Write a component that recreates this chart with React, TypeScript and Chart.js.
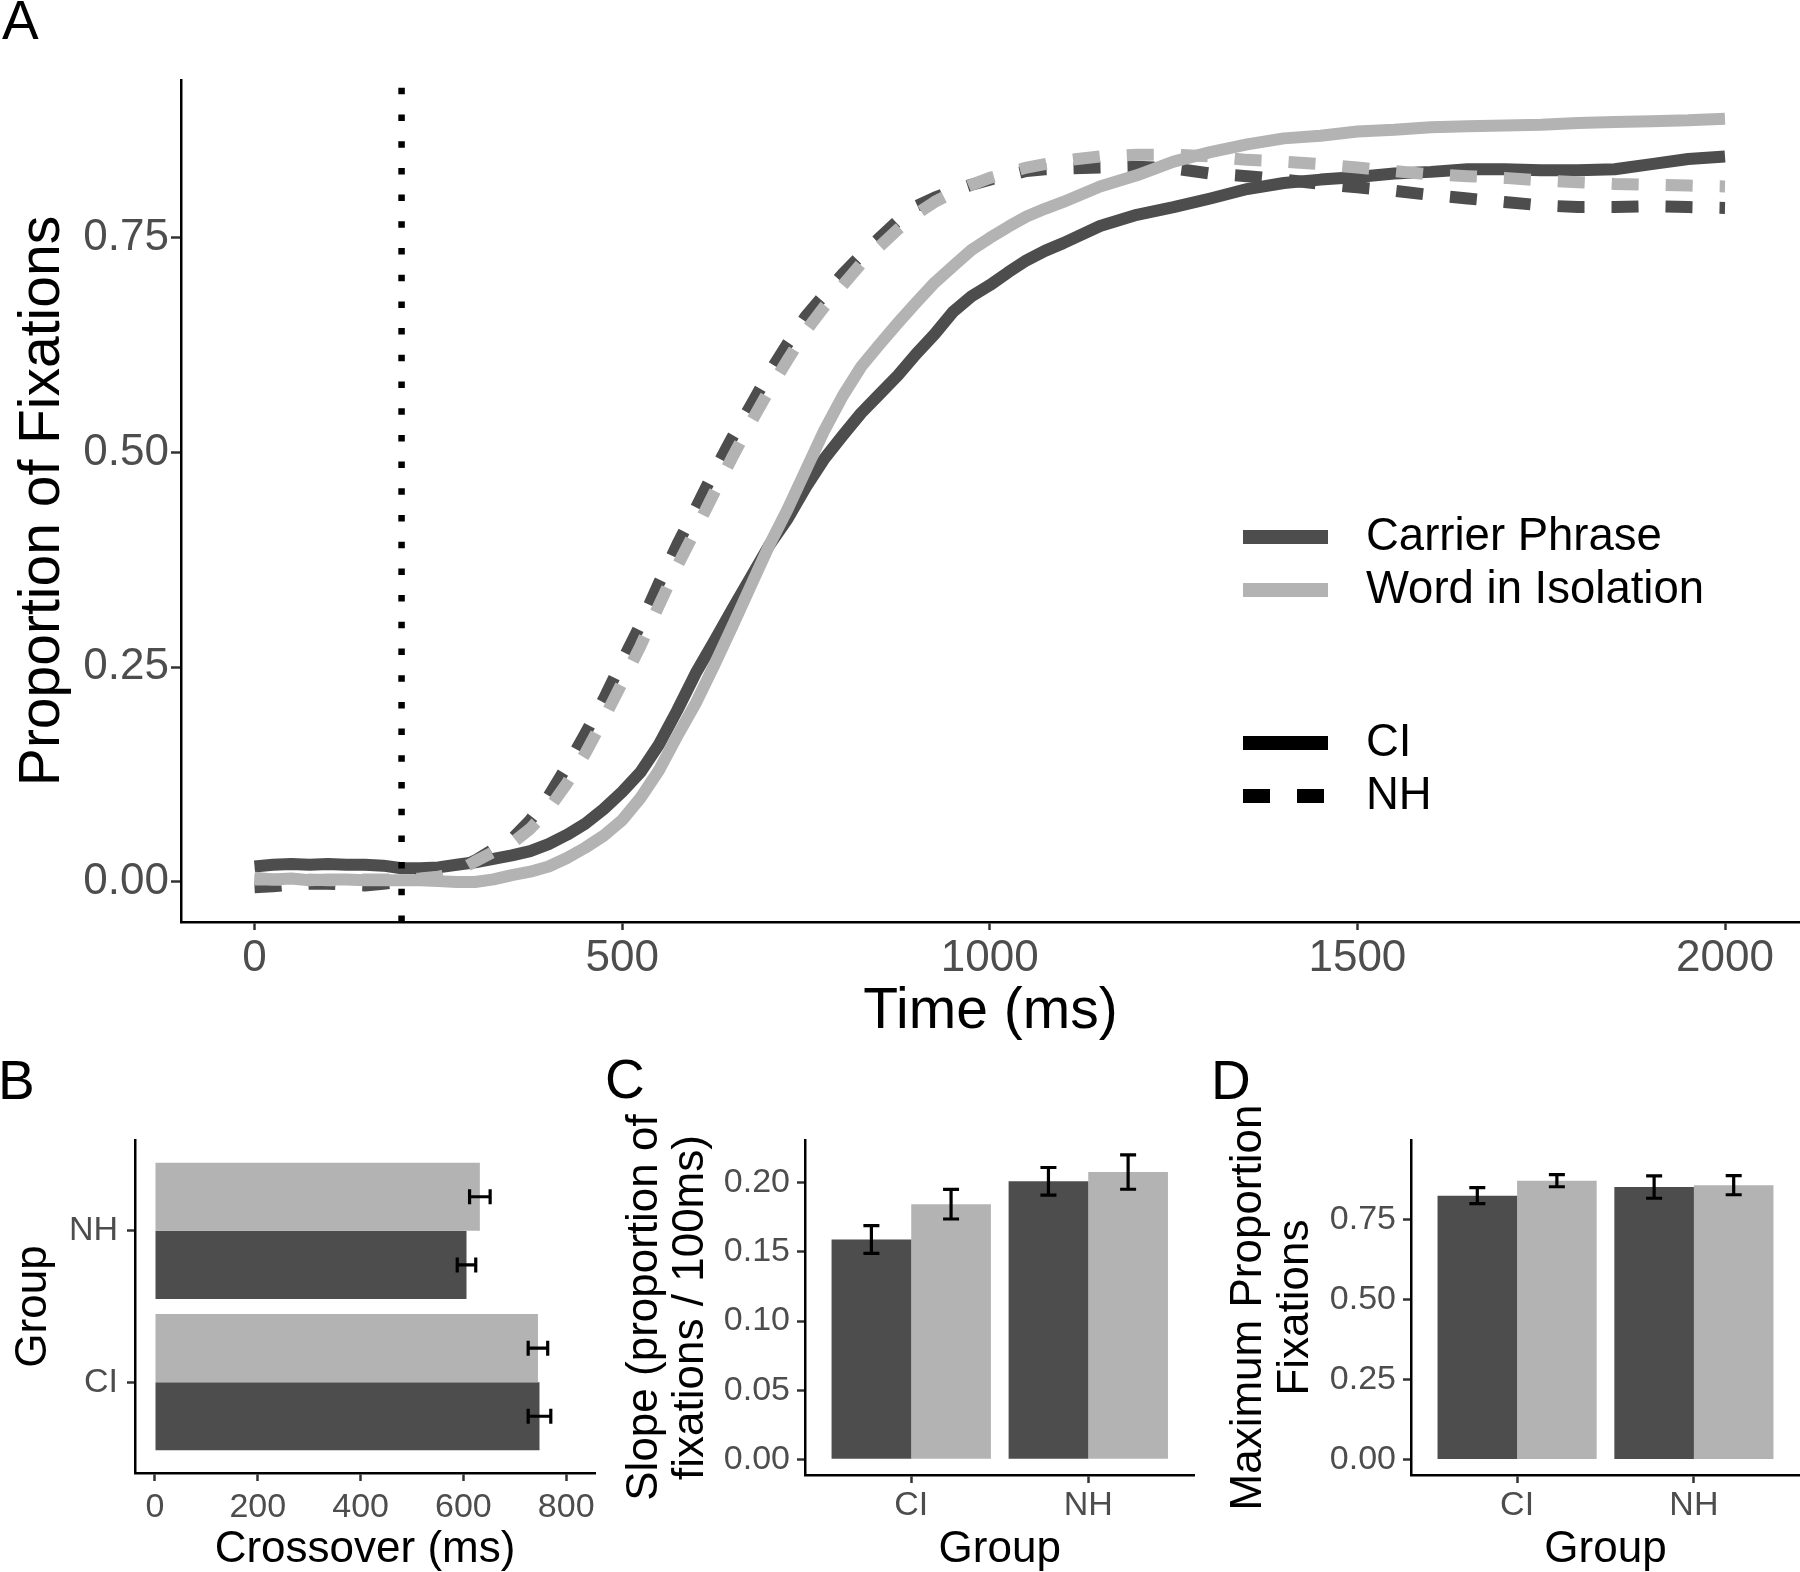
import React, { useEffect, useRef } from 'react';
import { Chart, registerables } from 'chart.js';

Chart.register(...registerables);

const FONT = "'Liberation Sans', Arial, Helvetica, sans-serif";
const DARK = '#4D4D4D';
const LIGHT = '#B3B3B3';
const TICK_TEXT = '#4D4D4D';
const TICK_MARK = '#333333';

// ---------- Panel A: time course ----------
const TIME_MS = [0, 25, 50, 75, 100, 125, 150, 175, 200, 225, 250, 275,
  300, 325, 350, 375, 400, 425, 450, 475, 500, 525, 550, 575,
  600, 625, 650, 675, 700, 725, 750, 775, 800, 825, 850, 875,
  900, 925, 950, 975, 1000, 1025, 1050, 1075, 1100,
  1150, 1200, 1250, 1300, 1350, 1400, 1450, 1500, 1550, 1600, 1650, 1700, 1750, 1800, 1850, 1900, 1950, 2000];

const CI_CARRIER = [0.018, 0.020, 0.021, 0.020, 0.021, 0.020, 0.020, 0.019, 0.016, 0.016, 0.017, 0.020,
  0.023, 0.027, 0.031, 0.036, 0.044, 0.055, 0.068, 0.085, 0.105, 0.128, 0.160, 0.200,
  0.243, 0.280, 0.318, 0.355, 0.392, 0.423, 0.460, 0.493, 0.520, 0.546, 0.568, 0.590,
  0.615, 0.638, 0.664, 0.682, 0.695, 0.710, 0.724, 0.735, 0.744,
  0.764, 0.777, 0.786, 0.796, 0.807, 0.814, 0.818, 0.821, 0.825, 0.827, 0.830, 0.830, 0.829, 0.829, 0.830, 0.836, 0.842, 0.845];

const CI_WORD = [0.005, 0.003, 0.004, 0.002, 0.003, 0.003, 0.002, 0.002, 0.002, 0.002, 0.001, 0.000,
  0.000, 0.003, 0.008, 0.012, 0.018, 0.028, 0.040, 0.054, 0.072, 0.098, 0.130, 0.170,
  0.208, 0.252, 0.298, 0.345, 0.392, 0.434, 0.480, 0.526, 0.566, 0.600, 0.626, 0.651,
  0.675, 0.698, 0.717, 0.736, 0.750, 0.763, 0.775, 0.784, 0.792,
  0.810, 0.823, 0.839, 0.850, 0.859, 0.866, 0.869, 0.874, 0.876, 0.879, 0.880, 0.881, 0.882, 0.884, 0.885, 0.886, 0.887, 0.889];

const NH_CARRIER = [-0.006, -0.005, -0.003, -0.002, -0.002, -0.003, -0.004, -0.002, 0.000, 0.004, 0.008, 0.015,
  0.025, 0.038, 0.050, 0.072, 0.100, 0.135, 0.173, 0.213, 0.257, 0.300, 0.348, 0.393,
  0.435, 0.478, 0.518, 0.555, 0.593, 0.627, 0.659, 0.684, 0.708, 0.730, 0.750, 0.770,
  0.787, 0.797, 0.805, 0.812, 0.818, 0.823, 0.828, 0.830, 0.831,
  0.832, 0.833, 0.831, 0.825, 0.822, 0.818, 0.813, 0.809, 0.805, 0.800, 0.796, 0.792, 0.788, 0.786, 0.786, 0.787, 0.786, 0.785];

const NH_WORD = [0.003, 0.003, 0.002, 0.003, 0.002, 0.002, 0.003, 0.003, 0.003, 0.004, 0.006, 0.012,
  0.024, 0.035, 0.045, 0.062, 0.085, 0.115, 0.150, 0.190, 0.232, 0.275, 0.322, 0.368,
  0.410, 0.453, 0.495, 0.535, 0.573, 0.608, 0.642, 0.670, 0.695, 0.720, 0.740, 0.760,
  0.778, 0.792, 0.803, 0.812, 0.820, 0.826, 0.832, 0.836, 0.840,
  0.845, 0.847, 0.847, 0.845, 0.841, 0.839, 0.836, 0.832, 0.828, 0.824, 0.822, 0.820, 0.817, 0.815, 0.813, 0.812, 0.811, 0.810];

const ONSET_MS = 200;
const TIME_TICKS = [0, 500, 1000, 1500, 2000];
const PROP_TICKS = [0, 0.25, 0.5, 0.75];
const CONDITIONS = ['Carrier Phrase', 'Word in Isolation'];
const GROUPS = ['CI', 'NH'];

// ---------- Panel B: crossover ----------
const CROSSOVER_CARRIER = [748, 606];
const CROSSOVER_CARRIER_SE = [22, 18];
const CROSSOVER_WORD = [745, 632];
const CROSSOVER_WORD_SE = [19, 20];
const CROSSOVER_TICKS = [0, 200, 400, 600, 800];

// ---------- Panel C: slope ----------
const SLOPE_CARRIER = [0.159, 0.201];
const SLOPE_CARRIER_SE = [0.010, 0.010];
const SLOPE_WORD = [0.1845, 0.2077];
const SLOPE_WORD_SE = [0.0107, 0.0124];
const SLOPE_TICKS = [0, 0.05, 0.10, 0.15, 0.20];

// ---------- Panel D: maximum proportion ----------
const MAXPROP_CARRIER = [0.824, 0.851];
const MAXPROP_CARRIER_SE = [0.025, 0.035];
const MAXPROP_WORD = [0.871, 0.857];
const MAXPROP_WORD_SE = [0.019, 0.030];
const MAXPROP_TICKS = [0, 0.25, 0.5, 0.75];

const SERIES_DASH = [27, 27];

function makeScale(o: any) {
  return {
    type: 'linear',
    min: o.min,
    max: o.max,
    offset: false,
    afterBuildTicks: (s: any) => { s.ticks = o.ticks.map((v: number) => ({ value: v })); },
    afterFit: (s: any) => {
      o.fit(s);
      s.paddingLeft = 0; s.paddingRight = 0; s.paddingTop = 0; s.paddingBottom = 0;
    },
    grid: {
      display: true, drawOnChartArea: false, drawTicks: true, offset: false,
      tickLength: o.tickLength, tickWidth: 2.5, tickColor: TICK_MARK, color: TICK_MARK,
    },
    border: { display: true, color: '#000', width: 2.5 },
    ticks: {
      autoSkip: false, maxRotation: 0, minRotation: 0, padding: o.tickPadding,
      color: TICK_TEXT, font: { family: FONT, size: o.tickFont, lineHeight: 1 },
      callback: (v: any) => o.format(Number(v)),
    },
    title: {
      display: true, text: o.title, color: '#000',
      font: { family: FONT, size: o.titleFont, lineHeight: o.titleLineHeight },
      padding: o.titlePadding,
    },
  };
}

const onsetLinePlugin = {
  id: 'onsetLine',
  afterDatasetsDraw(chart: any) {
    const { ctx, chartArea } = chart;
    const x = chart.scales.x.getPixelForValue(ONSET_MS);
    ctx.save();
    ctx.strokeStyle = '#000';
    ctx.lineWidth = 6.5;
    ctx.lineCap = 'butt';
    ctx.setLineDash([6.5, 20.2]);
    ctx.beginPath();
    ctx.moveTo(x, chartArea.bottom);
    ctx.lineTo(x, chartArea.top);
    ctx.stroke();
    ctx.restore();
  },
};

const timecourseLegendPlugin = {
  id: 'timecourseLegend',
  afterDraw(chart: any) {
    const ctx = chart.ctx;
    const items = [
      { label: CONDITIONS[0], color: DARK, dash: [], y: 537 },
      { label: CONDITIONS[1], color: LIGHT, dash: [], y: 590 },
      { label: GROUPS[0], color: '#000', dash: [], y: 743 },
      { label: GROUPS[1], color: '#000', dash: SERIES_DASH, y: 796 },
    ];
    ctx.save();
    ctx.font = `45.5px ${FONT}`;
    ctx.textBaseline = 'middle';
    ctx.textAlign = 'left';
    ctx.fillStyle = '#000';
    items.forEach((it) => {
      ctx.beginPath();
      ctx.setLineDash(it.dash);
      ctx.lineWidth = 14;
      ctx.lineCap = 'butt';
      ctx.strokeStyle = it.color;
      ctx.moveTo(1243, it.y);
      ctx.lineTo(1328, it.y);
      ctx.stroke();
      ctx.setLineDash([]);
      ctx.fillText(it.label, 1366, it.y);
    });
    ctx.restore();
  },
};

const errorBarsPlugin = {
  id: 'errorBars',
  afterDatasetsDraw(chart: any, _args: any, opts: any) {
    const { ctx } = chart;
    const horizontal = chart.options.indexAxis === 'y';
    const valueScale = horizontal ? chart.scales.x : chart.scales.y;
    const w = opts.capHalf || 8;
    ctx.save();
    ctx.strokeStyle = '#000';
    ctx.lineWidth = opts.lineWidth || 3;
    ctx.lineCap = 'butt';
    chart.data.datasets.forEach((ds: any, i: number) => {
      if (!ds.errors) return;
      const meta = chart.getDatasetMeta(i);
      meta.data.forEach((el: any, j: number) => {
        const v = horizontal ? ds.data[j].x : ds.data[j].y;
        const lo = valueScale.getPixelForValue(v - ds.errors[j]);
        const hi = valueScale.getPixelForValue(v + ds.errors[j]);
        const c = horizontal ? el.y : el.x;
        ctx.beginPath();
        if (horizontal) {
          ctx.moveTo(lo, c); ctx.lineTo(hi, c);
          ctx.moveTo(lo, c - w); ctx.lineTo(lo, c + w);
          ctx.moveTo(hi, c - w); ctx.lineTo(hi, c + w);
        } else {
          ctx.moveTo(c, lo); ctx.lineTo(c, hi);
          ctx.moveTo(c - w, lo); ctx.lineTo(c + w, lo);
          ctx.moveTo(c - w, hi); ctx.lineTo(c + w, hi);
        }
        ctx.stroke();
      });
    });
    ctx.restore();
  },
};

const baseOptions = (padding: any) => ({
  animation: false,
  responsive: false,
  maintainAspectRatio: false,
  events: [],
  layout: { padding },
});

function buildTimecourse() {
  const pts = (vals: number[]) => TIME_MS.map((t, i) => ({ x: t, y: vals[i] }));
  const line = (label: string, vals: number[], color: string, dash: number[], order: number) => ({
    label, data: pts(vals), borderColor: color, backgroundColor: color, borderWidth: 12,
    borderDash: dash, borderCapStyle: 'butt', borderJoinStyle: 'round',
    pointRadius: 0, pointHoverRadius: 0, fill: false, tension: 0, order,
  });
  return {
    type: 'line',
    data: {
      datasets: [
        line(`${GROUPS[0]} – ${CONDITIONS[0]}`, CI_CARRIER, DARK, [], 3),
        line(`${GROUPS[1]} – ${CONDITIONS[0]}`, NH_CARRIER, DARK, SERIES_DASH, 2),
        line(`${GROUPS[0]} – ${CONDITIONS[1]}`, CI_WORD, LIGHT, [], 1),
        line(`${GROUPS[1]} – ${CONDITIONS[1]}`, NH_WORD, LIGHT, SERIES_DASH, 0),
      ],
    },
    options: {
      ...baseOptions({ top: 80, right: 0, bottom: 0, left: 0 }),
      plugins: { legend: { display: false }, tooltip: { enabled: false } },
      scales: {
        x: makeScale({
          min: -100, max: 2102, ticks: TIME_TICKS, format: (v: number) => String(v),
          tickFont: 44, tickLength: 8, tickPadding: 6.5,
          fit: (s: any) => { s.height = 124; },
          title: 'Time (ms)', titleFont: 57, titleLineHeight: 1.2, titlePadding: { top: 0, bottom: 0 },
        }),
        y: makeScale({
          min: -0.0466, max: 0.934, ticks: PROP_TICKS, format: (v: number) => v.toFixed(2),
          tickFont: 44, tickLength: 10, tickPadding: 2,
          fit: (s: any) => { s.width = 181; },
          title: 'Proportion of Fixations', titleFont: 57, titleLineHeight: 1.2, titlePadding: { top: 9, bottom: 0 },
        }),
      },
    },
    plugins: [onsetLinePlugin, timecourseLegendPlugin],
  };
}

const barDataset = (label: string, values: number[], errors: number[], color: string, horizontal: boolean) => ({
  label,
  data: values.map((v, i) => (horizontal ? { x: v, y: i } : { x: i, y: v })),
  backgroundColor: color,
  borderWidth: 0,
  categoryPercentage: 0.9,
  barPercentage: 1,
  errors,
});

const groupPositions = GROUPS.map((_, i) => i);

function buildCrossover() {
  return {
    type: 'bar',
    data: {
      datasets: [
        barDataset(CONDITIONS[1], CROSSOVER_WORD, CROSSOVER_WORD_SE, LIGHT, true),
        barDataset(CONDITIONS[0], CROSSOVER_CARRIER, CROSSOVER_CARRIER_SE, DARK, true),
      ],
    },
    options: {
      ...baseOptions({ top: 40, right: 5, bottom: 0, left: 0 }),
      indexAxis: 'y',
      plugins: { legend: { display: false }, tooltip: { enabled: false }, errorBars: { capHalf: 7.5, lineWidth: 3.2 } },
      scales: {
        x: makeScale({
          min: -38.9, max: 856, ticks: CROSSOVER_TICKS, format: (v: number) => String(v),
          tickFont: 34, tickLength: 8, tickPadding: 9.5,
          fit: (s: any) => { s.height = 99; },
          title: 'Crossover (ms)', titleFont: 44, titleLineHeight: 1.0, titlePadding: { top: 0, bottom: 0 },
        }),
        y: makeScale({
          min: -0.6, max: 1.6, ticks: groupPositions, format: (v: number) => GROUPS[v],
          tickFont: 34, tickLength: 8, tickPadding: 9,
          fit: (s: any) => { s.width = 135; },
          title: 'Group', titleFont: 44, titleLineHeight: 1.2, titlePadding: { top: 7.5, bottom: 0 },
        }),
      },
    },
    plugins: [errorBarsPlugin],
  };
}

function buildGroupBars(carrier: number[], carrierSe: number[], word: number[], wordSe: number[],
  yMin: number, yMax: number, yTicks: number[], yTitle: string[], yWidth: number,
  titleLH: number, titlePadTop: number, rightPad: number) {
  return {
    type: 'bar',
    data: {
      datasets: [
        barDataset(CONDITIONS[0], carrier, carrierSe, DARK, false),
        barDataset(CONDITIONS[1], word, wordSe, LIGHT, false),
      ],
    },
    options: {
      ...baseOptions({ top: 40, right: rightPad, bottom: 0, left: 0 }),
      plugins: { legend: { display: false }, tooltip: { enabled: false }, errorBars: { capHalf: 8, lineWidth: 3.2 } },
      scales: {
        x: makeScale({
          min: -0.6, max: 1.6, ticks: groupPositions, format: (v: number) => GROUPS[v],
          tickFont: 34, tickLength: 8, tickPadding: 6,
          fit: (s: any) => { s.height = 97; },
          title: 'Group', titleFont: 44, titleLineHeight: 1.0, titlePadding: { top: 0, bottom: 0 },
        }),
        y: makeScale({
          min: yMin, max: yMax, ticks: yTicks, format: (v: number) => v.toFixed(2),
          tickFont: 34, tickLength: 8, tickPadding: 7,
          fit: (s: any) => { s.width = yWidth; },
          title: yTitle, titleFont: 44, titleLineHeight: titleLH, titlePadding: { top: titlePadTop, bottom: 0 },
        }),
      },
    },
    plugins: [errorBarsPlugin],
  };
}

function ChartPanel({ left, top, width, height, build }: any) {
  const ref = useRef<HTMLCanvasElement>(null);
  useEffect(() => {
    const chart = new Chart(ref.current as HTMLCanvasElement, build() as any);
    return () => chart.destroy();
  }, []);
  return (
    <canvas
      ref={ref}
      width={width}
      height={height}
      style={{ position: 'absolute', left, top, width, height, display: 'block' }}
    />
  );
}

const PANEL_LABELS = [
  { text: 'A', left: 2, top: -7 },
  { text: 'B', left: -2, top: 1053 },
  { text: 'C', left: 605, top: 1052 },
  { text: 'D', left: 1211, top: 1053 },
];

export default function App() {
  return (
    <div style={{ position: 'absolute', left: 0, top: 0, width: 1800, height: 1572, background: '#fff', overflow: 'hidden' }}>
      <ChartPanel left={0} top={0} width={1800} height={1046} build={buildTimecourse} />
      <ChartPanel left={0} top={1100} width={600} height={472} build={buildCrossover} />
      <ChartPanel
        left={600} top={1100} width={610} height={472}
        build={() => buildGroupBars(SLOPE_CARRIER, SLOPE_CARRIER_SE, SLOPE_WORD, SLOPE_WORD_SE,
          -0.0113, 0.2309, SLOPE_TICKS, ['Slope (proportion of', 'fixations / 100ms)'], 205, 1.045, 22, 15.5)}
      />
      <ChartPanel
        left={1210} top={1100} width={590} height={472}
        build={() => buildGroupBars(MAXPROP_CARRIER, MAXPROP_CARRIER_SE, MAXPROP_WORD, MAXPROP_WORD_SE,
          -0.0484, 0.998, MAXPROP_TICKS, ['Maximum Proportion', 'Fixations'], 201, 1.07, 15.5, 0)}
      />
      {PANEL_LABELS.map((p) => (
        <div
          key={p.text}
          style={{
            position: 'absolute', left: p.left, top: p.top, fontFamily: FONT, fontSize: 55,
            lineHeight: '55px', color: '#000', whiteSpace: 'nowrap',
          }}
        >
          {p.text}
        </div>
      ))}
    </div>
  );
}
